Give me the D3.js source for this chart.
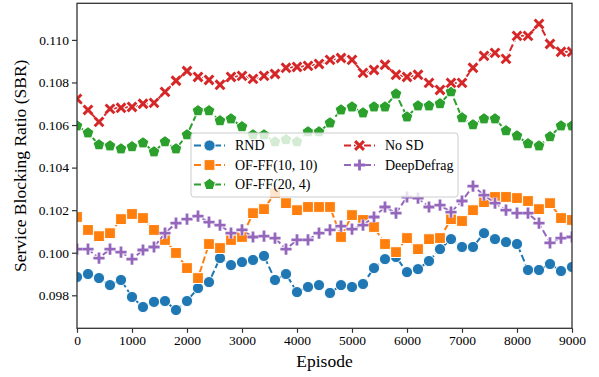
<!DOCTYPE html>
<html>
<head>
<meta charset="utf-8">
<script src="https://cdn.jsdelivr.net/npm/d3@7"></script>
<style>
  body { margin: 0; background: #fff; }
  svg text { font-family: "Liberation Serif", "Times New Roman", serif; fill: #000; }
</style>
</head>
<body>
<div id="chart"></div>
<script>
// episodes where values were sampled (every 200)
var episodes = d3.range(0, 9001, 200);

var rnd = [0.09886, 0.09900, 0.09881, 0.09848, 0.09872, 0.09792, 0.09745, 0.09769, 0.09773, 0.09731,
  0.09773, 0.09834, 0.09862, 0.09975, 0.09942, 0.09956, 0.09966, 0.09985, 0.09872, 0.09900,
  0.09815, 0.09839, 0.09848, 0.09811, 0.09848, 0.09839, 0.09853, 0.09928, 0.09970, 0.09980,
  0.09909, 0.09923, 0.09961, 0.10017, 0.10064, 0.10027, 0.10027, 0.10092, 0.10064, 0.10050,
  0.10041, 0.09919, 0.09919, 0.09947, 0.09914, 0.09933];

var offf1010 = [0.10168, 0.10107, 0.10078, 0.10092, 0.10158, 0.10182, 0.10163, 0.10107, 0.10060, 0.09999,
  0.09928, 0.09881, 0.10041, 0.10022, 0.10060, 0.10074, 0.10186, 0.10205, 0.10280, 0.10233,
  0.10200, 0.10215, 0.10215, 0.10215, 0.10074, 0.10177, 0.10154, 0.10121, 0.10041, 0.10003,
  0.10069, 0.10017, 0.10064, 0.10069, 0.10158, 0.10149, 0.10200, 0.10238, 0.10262, 0.10262,
  0.10257, 0.10243, 0.10205, 0.10233, 0.10163, 0.10154];

var offf204 = [0.10596, 0.10563, 0.10507, 0.10502, 0.10488, 0.10498, 0.10516, 0.10474, 0.10521, 0.10488,
  0.10554, 0.10667, 0.10667, 0.10620, 0.10629, 0.10592, 0.10554, 0.10554, 0.10521, 0.10531,
  0.10521, 0.10568, 0.10568, 0.10610, 0.10671, 0.10685, 0.10657, 0.10685, 0.10685, 0.10746,
  0.10638, 0.10690, 0.10690, 0.10700, 0.10756, 0.10634, 0.10601, 0.10629, 0.10629, 0.10573,
  0.10549, 0.10512, 0.10502, 0.10545, 0.10596, 0.10596];

var nosd = [0.10723, 0.10671, 0.10615, 0.10676, 0.10681, 0.10685, 0.10700, 0.10704, 0.10756, 0.10808,
  0.10854, 0.10826, 0.10812, 0.10789, 0.10826, 0.10831, 0.10817, 0.10831, 0.10840, 0.10869,
  0.10873, 0.10878, 0.10887, 0.10906, 0.10915, 0.10906, 0.10845, 0.10859, 0.10883, 0.10836,
  0.10826, 0.10836, 0.10798, 0.10765, 0.10798, 0.10798, 0.10869, 0.10925, 0.10939, 0.10911,
  0.11019, 0.11019, 0.11075, 0.10981, 0.10944, 0.10944];

var deepdefrag = [0.10017, 0.10017, 0.09975, 0.10017, 0.10003, 0.09970, 0.10013, 0.10027, 0.10092, 0.10139,
  0.10158, 0.10172, 0.10144, 0.10130, 0.10092, 0.10107, 0.10074, 0.10078, 0.10069, 0.10017,
  0.10060, 0.10060, 0.10092, 0.10107, 0.10125, 0.10111, 0.10130, 0.10168, 0.10215, 0.10186,
  0.10262, 0.10257, 0.10215, 0.10224, 0.10191, 0.10243, 0.10313, 0.10271, 0.10233, 0.10200,
  0.10186, 0.10186, 0.10139, 0.10046, 0.10069, 0.10074];

var xTicks = [0, 1000, 2000, 3000, 4000, 5000, 6000, 7000, 8000, 9000];
var yTicks = [0.098, 0.100, 0.102, 0.104, 0.106, 0.108, 0.110];

var series = [
  {name: "RND", values: rnd, color: "#1f77b4", marker: "circle"},
  {name: "OF-FF(10, 10)", values: offf1010, color: "#ff7f0e", marker: "square"},
  {name: "OF-FF(20, 4)", values: offf204, color: "#2ca02c", marker: "pentagon"},
  {name: "No SD", values: nosd, color: "#d62728", marker: "x"},
  {name: "DeepDefrag", values: deepdefrag, color: "#9467bd", marker: "plus"}
];

var W = 599, H = 377;
var margin = {top: 3.3, right: 27, bottom: 48.7, left: 77};
var width = W - margin.left - margin.right;
var height = H - margin.top - margin.bottom;

var svg = d3.select("#chart").append("svg")
    .attr("width", W)
    .attr("height", H);

var g = svg.append("g")
    .attr("transform", "translate(" + margin.left + "," + margin.top + ")");

var x = d3.scaleLinear().domain([0, 9000]).range([0, width]);
var y = d3.scaleLinear().domain([0.09645, 0.11172]).range([height, 0]);

// marker shapes
function pentagonPath(r) {
  var pts = d3.range(5).map(function(i) {
    var a = -Math.PI / 2 + i * 2 * Math.PI / 5;
    return [r * Math.cos(a), r * Math.sin(a)];
  });
  return "M" + pts.join("L") + "Z";
}

function drawMarker(sel, type, color) {
  if (type == "circle") {
    sel.append("circle").attr("r", 5.6)
      .attr("fill", color).attr("stroke", "#fff").attr("stroke-width", 1);
  } else if (type == "square") {
    sel.append("rect").attr("x", -5.4).attr("y", -5.4).attr("width", 10.8).attr("height", 10.8)
      .attr("fill", color).attr("stroke", "#fff").attr("stroke-width", 1);
  } else if (type == "pentagon") {
    sel.append("path").attr("d", pentagonPath(6.2))
      .attr("fill", color).attr("stroke", "#fff").attr("stroke-width", 1);
  } else if (type == "x") {
    var d = "M-4.4,-4.4L4.4,4.4M-4.4,4.4L4.4,-4.4";
    sel.append("path").attr("d", d).attr("stroke", "#fff").attr("stroke-width", 5);
    sel.append("path").attr("d", d).attr("stroke", color).attr("stroke-width", 3);
  } else {
    var p = "M-5.6,0L5.6,0M0,-5.6L0,5.6";
    sel.append("path").attr("d", p).attr("stroke", "#fff").attr("stroke-width", 4.8);
    sel.append("path").attr("d", p).attr("stroke", color).attr("stroke-width", 2.8);
  }
}

var line = d3.line()
    .x(function(d, i) { return x(episodes[i]); })
    .y(function(d) { return y(d); });

g.append("clipPath").attr("id", "clip")
  .append("rect").attr("width", width).attr("height", height);

var plot = g.append("g").attr("clip-path", "url(#clip)");

series.forEach(function(s) {
  var sg = plot.append("g");
  sg.append("path")
    .datum(s.values)
    .attr("d", line)
    .attr("fill", "none")
    .attr("stroke", "#fff")
    .attr("stroke-width", 3.8)
    .attr("stroke-dasharray", "7,3");
  sg.append("path")
    .datum(s.values)
    .attr("d", line)
    .attr("fill", "none")
    .attr("stroke", s.color)
    .attr("stroke-width", 2)
    .attr("stroke-dasharray", "7,3");
  sg.selectAll(".mk")
    .data(s.values)
    .enter()
    .append("g")
    .attr("class", "mk")
    .attr("transform", function(d, i) { return "translate(" + x(episodes[i]) + "," + y(d) + ")"; })
    .each(function() { drawMarker(d3.select(this), s.marker, s.color); });
});

// axes
var xAxis = d3.axisBottom(x).tickValues(xTicks).tickSize(4.5).tickPadding(3).tickFormat(d3.format("d"));
var yAxis = d3.axisLeft(y).tickValues(yTicks).tickSize(5).tickPadding(3).tickFormat(d3.format(".3f"));

var gx = g.append("g")
    .attr("transform", "translate(0," + height + ")")
    .call(xAxis);
var gy = g.append("g").call(yAxis);

[gx, gy].forEach(function(ax) {
  ax.select(".domain").remove();
  ax.selectAll("line").attr("stroke", "#333").attr("stroke-width", 1.2);
  ax.selectAll("text")
    .style("font-family", "'Liberation Serif', 'Times New Roman', serif")
    .style("font-size", "13.5px")
    .attr("fill", "#000");
});

// frame
g.append("rect")
  .attr("width", width)
  .attr("height", height)
  .attr("fill", "none")
  .attr("stroke", "#333")
  .attr("stroke-width", 1.3);

// labels
svg.append("text")
  .attr("x", margin.left + width / 2)
  .attr("y", 367)
  .attr("text-anchor", "middle")
  .style("font-size", "17.5px")
  .text("Episode");

svg.append("text")
  .attr("transform", "translate(26," + (margin.top + height / 2) + ") rotate(-90)")
  .attr("text-anchor", "middle")
  .style("font-size", "17.5px")
  .text("Service Blocking Ratio (SBR)");

// legend
var legend = svg.append("g");
legend.append("rect")
  .attr("x", 191).attr("y", 133)
  .attr("width", 267).attr("height", 64)
  .attr("rx", 3)
  .attr("fill", "#fff").attr("fill-opacity", 0.8)
  .attr("stroke", "#ccc").attr("stroke-width", 1);

var legendPos = [[194, 145.5], [194, 165], [194, 184.5], [344, 145.5], [344, 165]];

series.forEach(function(s, i) {
  var p = legendPos[i];
  var lg = legend.append("g").attr("transform", "translate(" + p[0] + "," + p[1] + ")");
  lg.append("line")
    .attr("x1", 0).attr("x2", 31)
    .attr("stroke", s.color).attr("stroke-width", 2)
    .attr("stroke-dasharray", "7,3");
  drawMarker(lg.append("g").attr("transform", "translate(15.5,0)"), s.marker, s.color);
  lg.append("text")
    .attr("x", 41).attr("y", 0)
    .attr("dy", "0.35em")
    .style("font-size", "14px")
    .text(s.name);
});
</script>
</body>
</html>
